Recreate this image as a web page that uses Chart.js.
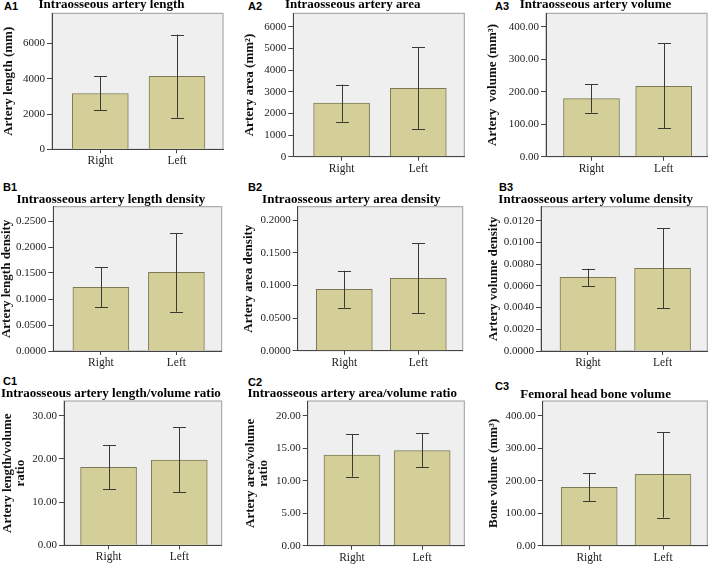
<!DOCTYPE html>
<html>
<head>
<title>Intraosseous artery measurements</title>
<script src="https://cdn.jsdelivr.net/npm/chart.js"></script>
<style>
  body { margin: 0; background: #fff; width: 709px; height: 564px; position: relative; overflow: hidden; }
  canvas { position: absolute; }
  .tag { position: absolute; font: bold 11px "Liberation Sans", Arial, sans-serif; line-height: 11px; color: #000; }
</style>
</head>
<body>
<div class="tag" style="left:4px;top:1px">A1</div>
<div class="tag" style="left:248px;top:1px">A2</div>
<div class="tag" style="left:495px;top:1px">A3</div>
<div class="tag" style="left:3px;top:182px">B1</div>
<div class="tag" style="left:248px;top:182px">B2</div>
<div class="tag" style="left:499px;top:182px">B3</div>
<div class="tag" style="left:3px;top:376px">C1</div>
<div class="tag" style="left:248px;top:377px">C2</div>
<div class="tag" style="left:495px;top:381px">C3</div>
<script>
var categories = ['Right', 'Left'];

// bar heights (means) and error bar ends [low, high]
var lengthMean = [3170, 4140];
var lengthErr = [[2210, 4150], [1790, 6515]];
var areaMean = [2470, 3160];
var areaErr = [[1615, 3325], [1265, 5060]];
var volumeMean = [178.5, 216.6];
var volumeErr = [[135.4, 222.8], [87.4, 349]];
var lengthDensMean = [0.1225, 0.1513];
var lengthDensErr = [[0.0846, 0.161], [0.0756, 0.2263]];
var areaDensMean = [0.094, 0.1108];
var areaDensErr = [[0.0658, 0.1224], [0.0572, 0.1644]];
var volumeDensMean = [0.00679, 0.00762];
var volumeDensErr = [[0.00599, 0.00758], [0.00394, 0.01131]];
var lengthRatioMean = [18.06, 19.75];
var lengthRatioErr = [[13.03, 23.15], [12.27, 27.3]];
var areaRatioMean = [13.95, 14.66];
var areaRatioErr = [[10.65, 17.19], [12.1, 17.35]];
var boneMean = [179.7, 219.7];
var boneErr = [[136.6, 223.7], [86.2, 349]];

// panel texts, axis ranges and where each plot sits on the page
var panels = [
  { title: 'Intraosseous artery length', yTitle: 'Artery length (mm)', mean: lengthMean, err: lengthErr,
    max: 7720, step: 2000, dec: 0, x: 0, titleY: 4.5, l: 52, t: 13.3, r: 223, b: 149.3, yt: 9 },
  { title: 'Intraosseous artery area', yTitle: 'Artery area (mm\u00b2)', mean: areaMean, err: areaErr,
    max: 6620, step: 1000, dec: 0, x: 241, titleY: 4.5, l: 293.3, t: 13.3, r: 464.3, b: 156.7, yt: 250 },
  { title: 'Intraosseous artery volume', yTitle: 'Artery  volume (mm\u00b3)', mean: volumeMean, err: volumeErr,
    max: 441, step: 100, dec: 2, x: 484, titleY: 4.5, l: 546, t: 13.3, r: 707, b: 156.7, yt: 493 },
  { title: 'Intraosseous artery length density', yTitle: 'Artery length density', mean: lengthDensMean, err: lengthDensErr,
    max: 0.2775, step: 0.05, dec: 4, x: 0, titleY: 199.5, l: 53.3, t: 206.7, r: 221.7, b: 351, yt: 6.7 },
  { title: 'Intraosseous artery area density', yTitle: 'Artery area density', mean: areaDensMean, err: areaDensErr,
    max: 0.2204, step: 0.05, dec: 4, x: 240, titleY: 199.5, l: 297.7, t: 206.7, r: 462.7, b: 350.7, yt: 249 },
  { title: 'Intraosseous artery volume density', yTitle: 'Artery volume density', mean: volumeDensMean, err: volumeDensErr,
    max: 0.0133, step: 0.002, dec: 4, x: 484, titleY: 199.5, l: 541, t: 206.7, r: 707.3, b: 351, yt: 493.3 },
  { title: 'Intraosseous artery length/volume ratio', yTitle: ['Artery length/volume', 'ratio'], mean: lengthRatioMean, err: lengthRatioErr,
    max: 33.4, step: 10, dec: 2, x: 0, titleY: 393, l: 64, t: 401, r: 221.7, b: 545.3, yt: 14.5 },
  { title: 'Intraosseous artery area/volume ratio', yTitle: ['Artery area/volume', 'ratio'], mean: areaRatioMean, err: areaRatioErr,
    max: 22.3, step: 5, dec: 2, x: 240, titleY: 393, l: 307.7, t: 401, r: 464.3, b: 545.7, yt: 256.7 },
  { title: 'Femoral head bone volume', yTitle: 'Bone volume (mm\u00b3)', mean: boneMean, err: boneErr,
    max: 445, step: 100, dec: 2, x: 484, titleY: 394.5, l: 542.7, t: 401, r: 707.3, b: 545.7, yt: 493.3 }
];

Chart.defaults.font.family = '"Liberation Serif", "Times New Roman", serif';
Chart.defaults.color = '#222';

// grey plot background and frame
var framePlugin = {
  id: 'frame',
  beforeDraw: function (chart) {
    var a = chart.chartArea, ctx = chart.ctx;
    ctx.save();
    ctx.fillStyle = '#efefef';
    ctx.fillRect(a.left, a.top, a.right - a.left, a.bottom - a.top);
    ctx.strokeStyle = '#9c9c9c';
    ctx.lineWidth = 1;
    ctx.strokeRect(a.left, a.top, a.right - a.left, a.bottom - a.top);
    ctx.restore();
  }
};

// whiskers with caps
var errorPlugin = {
  id: 'errbars',
  afterDatasetsDraw: function (chart) {
    var ctx = chart.ctx, ys = chart.scales.y;
    var ds = chart.data.datasets[0];
    var meta = chart.getDatasetMeta(0);
    ctx.save();
    ctx.strokeStyle = '#3a3a32';
    ctx.lineWidth = 1;
    meta.data.forEach(function (bar, i) {
      var lo = ys.getPixelForValue(ds.errs[i][0]);
      var hi = ys.getPixelForValue(ds.errs[i][1]);
      var x = Math.round(bar.x) + 0.5;
      ctx.beginPath();
      ctx.moveTo(x, lo); ctx.lineTo(x, hi);
      ctx.moveTo(x - 6.5, Math.round(hi) + 0.5); ctx.lineTo(x + 6.5, Math.round(hi) + 0.5);
      ctx.moveTo(x - 6.5, Math.round(lo) + 0.5); ctx.lineTo(x + 6.5, Math.round(lo) + 0.5);
      ctx.stroke();
    });
    ctx.restore();
  }
};

panels.forEach(function (p) {
  var cx = p.x;
  var cy = Math.round(p.titleY - 6.5);
  var w = Math.ceil(p.r) + 2 - cx;
  var h = Math.ceil(p.b) + 20 - cy;
  var xh = h - (p.b - cy);
  var lines = Array.isArray(p.yTitle) ? p.yTitle.length : 1;

  var cv = document.createElement('canvas');
  cv.width = w;
  cv.height = h;
  cv.style.left = cx + 'px';
  cv.style.top = cy + 'px';
  document.body.appendChild(cv);

  new Chart(cv, {
    type: 'bar',
    data: {
      datasets: [{
        data: p.mean.map(function (v, i) { return { x: i, y: v }; }),
        errs: p.err,
        backgroundColor: '#d4cf98',
        borderColor: '#7d7957',
        borderWidth: 1,
        barThickness: 56
      }]
    },
    options: {
      responsive: false,
      animation: false,
      layout: { padding: { left: 0, top: 0, bottom: 0, right: w - (p.r - cx) } },
      plugins: {
        legend: { display: false },
        tooltip: { enabled: false },
        title: {
          display: true,
          text: p.title,
          color: '#000',
          font: { size: 13, weight: 'bold', lineHeight: 1 },
          padding: { top: 0, bottom: p.t - cy - 13 }
        }
      },
      scales: {
        x: {
          type: 'linear',
          min: -0.63,
          max: 1.6,
          offset: false,
          bounds: 'data',
          border: { display: true, color: '#444' },
          grid: { drawOnChartArea: false, offset: false, tickLength: 4, color: '#444' },
          ticks: {
            padding: 1,
            font: { size: 11.5 },
            callback: function (v) { return categories[v]; }
          },
          afterBuildTicks: function (s) {
            s.ticks = categories.map(function (c, i) { return { value: i }; });
          },
          afterFit: function (s) { s.height = xh; }
        },
        y: {
          min: 0,
          max: p.max,
          bounds: 'data',
          border: { display: true, color: '#444' },
          grid: { drawOnChartArea: false, tickLength: 5, color: '#444' },
          ticks: {
            padding: 2,
            font: { size: 11 },
            callback: function (v) { return Number(v).toFixed(p.dec); }
          },
          afterBuildTicks: function (s) {
            var t = [];
            for (var k = 0; k * p.step <= p.max; k++) t.push({ value: k * p.step });
            s.ticks = t;
          },
          title: {
            display: true,
            text: p.yTitle,
            color: '#111',
            font: { size: 13, weight: 'bold', lineHeight: 1 },
            padding: { top: p.yt - 6.5 * lines - cx, bottom: 0 }
          },
          afterFit: function (s) { s.width = p.l - cx; }
        }
      }
    },
    plugins: [framePlugin, errorPlugin]
  });
});
</script>
</body>
</html>
